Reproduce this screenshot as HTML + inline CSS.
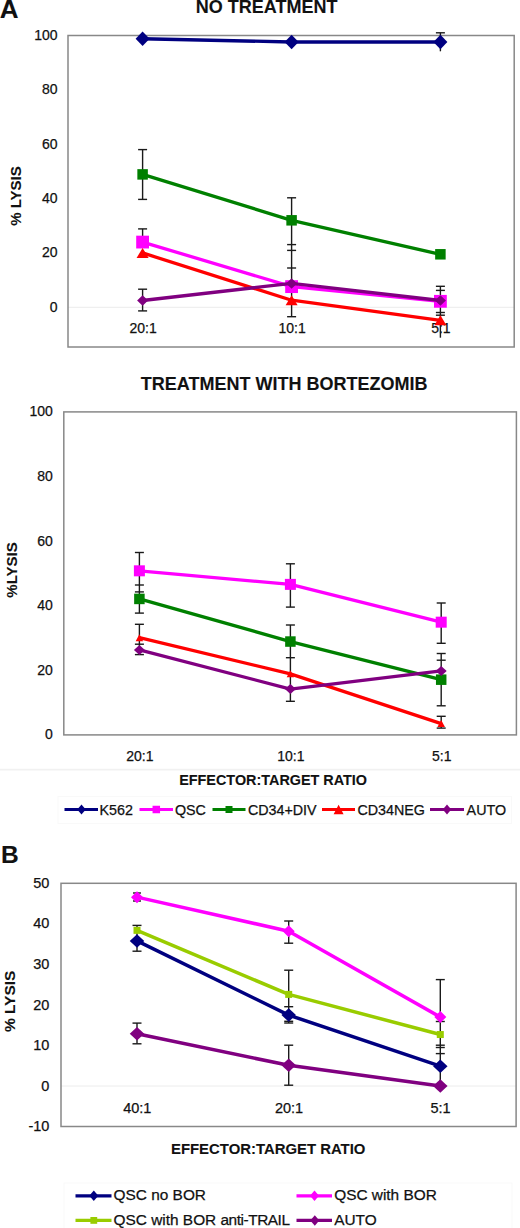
<!DOCTYPE html>
<html><head><meta charset="utf-8"><title>Figure</title>
<style>
html,body{margin:0;padding:0;background:#fff;}
body{width:520px;height:1228px;overflow:hidden;}
svg{display:block;font-family:"Liberation Sans",sans-serif;fill:#111;}
svg text{fill:#111;stroke:#111;stroke-width:0.25px;}
svg text[font-weight]{stroke-width:0.1px;}
</style></head><body>
<svg width="520" height="1228" viewBox="0 0 520 1228">
<rect width="520" height="1228" fill="#fff"/>
<line x1="68" y1="307.3" x2="514.2" y2="307.3" stroke="#ececec" stroke-width="1"/>
<rect x="68" y="35.5" width="446.20" height="311.50" fill="none" stroke="#888888" stroke-width="1.5"/>
<text x="57.60" y="311.70" font-size="14" text-anchor="end" >0</text>
<text x="57.60" y="257.34" font-size="14" text-anchor="end" >20</text>
<text x="57.60" y="202.98" font-size="14" text-anchor="end" >40</text>
<text x="57.60" y="148.62" font-size="14" text-anchor="end" >60</text>
<text x="57.60" y="94.26" font-size="14" text-anchor="end" >80</text>
<text x="57.60" y="39.90" font-size="14" text-anchor="end" >100</text>
<text x="143.10" y="333.20" font-size="14" text-anchor="middle" >20:1</text>
<text x="292.10" y="333.20" font-size="14" text-anchor="middle" >10:1</text>
<text x="440.90" y="333.20" font-size="14" text-anchor="middle" >5:1</text>
<text x="266.60" y="13.20" font-size="18" text-anchor="middle" font-weight="bold" >NO TREATMENT</text>
<text x="0.00" y="0.00" font-size="15" text-anchor="middle" font-weight="bold" transform="translate(21.2 196) rotate(-90)">% LYSIS</text>
<text x="-0.30" y="18.00" font-size="26" text-anchor="start" font-weight="bold" >A</text>
<line x1="142.60" y1="149.60" x2="142.60" y2="199.40" stroke="#1a1a1a" stroke-width="1.4"/>
<line x1="138.10" y1="149.60" x2="147.10" y2="149.60" stroke="#1a1a1a" stroke-width="1.4"/>
<line x1="138.10" y1="199.40" x2="147.10" y2="199.40" stroke="#1a1a1a" stroke-width="1.4"/>
<line x1="142.60" y1="228.90" x2="142.60" y2="242.00" stroke="#1a1a1a" stroke-width="1.4"/>
<line x1="138.10" y1="228.90" x2="147.10" y2="228.90" stroke="#1a1a1a" stroke-width="1.4"/>
<line x1="142.60" y1="289.20" x2="142.60" y2="310.90" stroke="#1a1a1a" stroke-width="1.4"/>
<line x1="138.10" y1="289.20" x2="147.10" y2="289.20" stroke="#1a1a1a" stroke-width="1.4"/>
<line x1="138.10" y1="310.90" x2="147.10" y2="310.90" stroke="#1a1a1a" stroke-width="1.4"/>
<line x1="291.60" y1="197.80" x2="291.60" y2="316.70" stroke="#1a1a1a" stroke-width="1.4"/>
<line x1="287.10" y1="197.80" x2="296.10" y2="197.80" stroke="#1a1a1a" stroke-width="1.4"/>
<line x1="287.10" y1="244.60" x2="296.10" y2="244.60" stroke="#1a1a1a" stroke-width="1.4"/>
<line x1="287.10" y1="250.40" x2="296.10" y2="250.40" stroke="#1a1a1a" stroke-width="1.4"/>
<line x1="287.10" y1="268.00" x2="296.10" y2="268.00" stroke="#1a1a1a" stroke-width="1.4"/>
<line x1="287.10" y1="316.70" x2="296.10" y2="316.70" stroke="#1a1a1a" stroke-width="1.4"/>
<line x1="440.40" y1="32.80" x2="440.40" y2="51.30" stroke="#1a1a1a" stroke-width="1.4"/>
<line x1="435.90" y1="32.80" x2="444.90" y2="32.80" stroke="#1a1a1a" stroke-width="1.4"/>
<line x1="440.40" y1="286.30" x2="440.40" y2="337.70" stroke="#1a1a1a" stroke-width="1.4"/>
<line x1="435.90" y1="286.30" x2="444.90" y2="286.30" stroke="#1a1a1a" stroke-width="1.4"/>
<line x1="435.90" y1="290.40" x2="444.90" y2="290.40" stroke="#1a1a1a" stroke-width="1.4"/>
<line x1="435.90" y1="312.50" x2="444.90" y2="312.50" stroke="#1a1a1a" stroke-width="1.4"/>
<line x1="435.90" y1="315.20" x2="444.90" y2="315.20" stroke="#1a1a1a" stroke-width="1.4"/>
<polyline points="142.60,38.76 291.60,42.02 440.40,42.02" fill="none" stroke="#000080" stroke-width="3.3" stroke-linejoin="round"/>
<path d="M142.60 31.51L149.60 38.76L142.60 46.01L135.60 38.76Z" fill="#000080"/>
<path d="M291.60 34.77L298.60 42.02L291.60 49.27L284.60 42.02Z" fill="#000080"/>
<path d="M440.40 34.77L447.40 42.02L440.40 49.27L433.40 42.02Z" fill="#000080"/>
<polyline points="142.60,242.07 291.60,286.64 440.40,301.32" fill="none" stroke="#ff00ff" stroke-width="3.3" stroke-linejoin="round"/>
<rect x="136.20" y="235.67" width="12.8" height="12.8" fill="#ff00ff"/>
<rect x="285.20" y="280.24" width="12.8" height="12.8" fill="#ff00ff"/>
<rect x="434.00" y="294.92" width="12.8" height="12.8" fill="#ff00ff"/>
<polyline points="142.60,174.39 291.60,220.32 440.40,254.30" fill="none" stroke="#008000" stroke-width="3.3" stroke-linejoin="round"/>
<rect x="137.35" y="169.14" width="10.5" height="10.5" fill="#008000"/>
<rect x="286.35" y="215.07" width="10.5" height="10.5" fill="#008000"/>
<rect x="435.15" y="249.05" width="10.5" height="10.5" fill="#008000"/>
<polyline points="142.60,252.94 291.60,300.23 440.40,320.35" fill="none" stroke="#ff0000" stroke-width="3.3" stroke-linejoin="round"/>
<path d="M142.60 247.94L148.60 257.94L136.60 257.94Z" fill="#ff0000"/>
<path d="M291.60 295.23L297.60 305.23L285.60 305.23Z" fill="#ff0000"/>
<path d="M440.40 315.35L446.40 325.35L434.40 325.35Z" fill="#ff0000"/>
<polyline points="142.60,300.50 291.60,283.38 440.40,300.50" fill="none" stroke="#800080" stroke-width="3.3" stroke-linejoin="round"/>
<path d="M142.60 295.25L148.10 300.50L142.60 305.75L137.10 300.50Z" fill="#800080"/>
<path d="M291.60 278.13L297.10 283.38L291.60 288.63L286.10 283.38Z" fill="#800080"/>
<path d="M440.40 295.25L445.90 300.50L440.40 305.75L434.90 300.50Z" fill="#800080"/>
<rect x="63.8" y="411.9" width="452.60" height="323.00" fill="none" stroke="#888888" stroke-width="1.5"/>
<text x="52.90" y="739.30" font-size="14" text-anchor="end" >0</text>
<text x="52.90" y="674.70" font-size="14" text-anchor="end" >20</text>
<text x="52.90" y="610.10" font-size="14" text-anchor="end" >40</text>
<text x="52.90" y="545.50" font-size="14" text-anchor="end" >60</text>
<text x="52.90" y="480.90" font-size="14" text-anchor="end" >80</text>
<text x="52.90" y="416.30" font-size="14" text-anchor="end" >100</text>
<text x="139.90" y="760.90" font-size="14" text-anchor="middle" >20:1</text>
<text x="290.90" y="760.90" font-size="14" text-anchor="middle" >10:1</text>
<text x="441.70" y="760.90" font-size="14" text-anchor="middle" >5:1</text>
<text x="284.10" y="390.30" font-size="18" text-anchor="middle" font-weight="bold" >TREATMENT WITH BORTEZOMIB</text>
<text x="0.00" y="0.00" font-size="15" text-anchor="middle" font-weight="bold" transform="translate(17.2 570) rotate(-90)">%LYSIS</text>
<line x1="0" y1="769.6" x2="520" y2="769.6" stroke="#f1f1f1" stroke-width="1.6"/>
<text x="179.20" y="784.60" font-size="14.4" text-anchor="start" font-weight="bold" >EFFECTOR:TARGET RATIO</text>
<line x1="139.40" y1="552.50" x2="139.40" y2="613.10" stroke="#1a1a1a" stroke-width="1.4"/>
<line x1="134.90" y1="552.50" x2="143.90" y2="552.50" stroke="#1a1a1a" stroke-width="1.4"/>
<line x1="134.90" y1="585.00" x2="143.90" y2="585.00" stroke="#1a1a1a" stroke-width="1.4"/>
<line x1="134.90" y1="591.90" x2="143.90" y2="591.90" stroke="#1a1a1a" stroke-width="1.4"/>
<line x1="134.90" y1="613.10" x2="143.90" y2="613.10" stroke="#1a1a1a" stroke-width="1.4"/>
<line x1="139.40" y1="624.30" x2="139.40" y2="654.60" stroke="#1a1a1a" stroke-width="1.4"/>
<line x1="134.90" y1="624.30" x2="143.90" y2="624.30" stroke="#1a1a1a" stroke-width="1.4"/>
<line x1="134.90" y1="644.20" x2="143.90" y2="644.20" stroke="#1a1a1a" stroke-width="1.4"/>
<line x1="134.90" y1="654.60" x2="143.90" y2="654.60" stroke="#1a1a1a" stroke-width="1.4"/>
<line x1="290.40" y1="563.80" x2="290.40" y2="607.10" stroke="#1a1a1a" stroke-width="1.4"/>
<line x1="285.90" y1="563.80" x2="294.90" y2="563.80" stroke="#1a1a1a" stroke-width="1.4"/>
<line x1="285.90" y1="607.10" x2="294.90" y2="607.10" stroke="#1a1a1a" stroke-width="1.4"/>
<line x1="290.40" y1="625.00" x2="290.40" y2="701.30" stroke="#1a1a1a" stroke-width="1.4"/>
<line x1="285.90" y1="625.00" x2="294.90" y2="625.00" stroke="#1a1a1a" stroke-width="1.4"/>
<line x1="285.90" y1="657.70" x2="294.90" y2="657.70" stroke="#1a1a1a" stroke-width="1.4"/>
<line x1="285.90" y1="701.30" x2="294.90" y2="701.30" stroke="#1a1a1a" stroke-width="1.4"/>
<line x1="441.20" y1="603.00" x2="441.20" y2="643.30" stroke="#1a1a1a" stroke-width="1.4"/>
<line x1="436.70" y1="603.00" x2="445.70" y2="603.00" stroke="#1a1a1a" stroke-width="1.4"/>
<line x1="436.70" y1="643.30" x2="445.70" y2="643.30" stroke="#1a1a1a" stroke-width="1.4"/>
<line x1="441.20" y1="653.50" x2="441.20" y2="705.80" stroke="#1a1a1a" stroke-width="1.4"/>
<line x1="436.70" y1="653.50" x2="445.70" y2="653.50" stroke="#1a1a1a" stroke-width="1.4"/>
<line x1="436.70" y1="660.20" x2="445.70" y2="660.20" stroke="#1a1a1a" stroke-width="1.4"/>
<line x1="436.70" y1="705.80" x2="445.70" y2="705.80" stroke="#1a1a1a" stroke-width="1.4"/>
<line x1="441.20" y1="716.30" x2="441.20" y2="728.10" stroke="#1a1a1a" stroke-width="1.4"/>
<line x1="436.70" y1="716.30" x2="445.70" y2="716.30" stroke="#1a1a1a" stroke-width="1.4"/>
<line x1="436.70" y1="728.10" x2="445.70" y2="728.10" stroke="#1a1a1a" stroke-width="1.4"/>
<polyline points="139.40,570.82 290.40,584.38 441.20,622.17" fill="none" stroke="#ff00ff" stroke-width="3.3" stroke-linejoin="round"/>
<rect x="133.90" y="565.32" width="11" height="11" fill="#ff00ff"/>
<rect x="284.90" y="578.88" width="11" height="11" fill="#ff00ff"/>
<rect x="435.70" y="616.67" width="11" height="11" fill="#ff00ff"/>
<polyline points="139.40,598.92 290.40,641.55 441.20,679.67" fill="none" stroke="#008000" stroke-width="3.3" stroke-linejoin="round"/>
<rect x="134.15" y="593.67" width="10.5" height="10.5" fill="#008000"/>
<rect x="285.15" y="636.30" width="10.5" height="10.5" fill="#008000"/>
<rect x="435.95" y="674.42" width="10.5" height="10.5" fill="#008000"/>
<polyline points="139.40,637.68 290.40,673.85 441.20,723.60" fill="none" stroke="#ff0000" stroke-width="3.3" stroke-linejoin="round"/>
<path d="M139.40 634.18L143.15 641.18L135.65 641.18Z" fill="#ff0000"/>
<path d="M290.40 670.35L294.15 677.35L286.65 677.35Z" fill="#ff0000"/>
<path d="M441.20 720.10L444.95 727.10L437.45 727.10Z" fill="#ff0000"/>
<polyline points="139.40,649.95 290.40,689.03 441.20,670.95" fill="none" stroke="#800080" stroke-width="3.3" stroke-linejoin="round"/>
<path d="M139.40 644.95L144.90 649.95L139.40 654.95L133.90 649.95Z" fill="#800080"/>
<path d="M290.40 684.03L295.90 689.03L290.40 694.03L284.90 689.03Z" fill="#800080"/>
<path d="M441.20 665.95L446.70 670.95L441.20 675.95L435.70 670.95Z" fill="#800080"/>
<rect x="58" y="796.5" width="453.5" height="27" fill="none" stroke="#f9f9f9" stroke-width="1"/>
<line x1="64.5" y1="809.5" x2="98" y2="809.5" stroke="#000080" stroke-width="3"/>
<path d="M81.50 804.50L85.75 809.50L81.50 814.50L77.25 809.50Z" fill="#000080"/>
<text x="99.50" y="814.50" font-size="14.3" text-anchor="start" >K562</text>
<line x1="139.5" y1="809.5" x2="173" y2="809.5" stroke="#ff00ff" stroke-width="3"/>
<rect x="152.55" y="805.75" width="7.5" height="7.5" fill="#ff00ff"/>
<text x="174.90" y="814.50" font-size="14.3" text-anchor="start" >QSC</text>
<line x1="212.5" y1="809.5" x2="245.5" y2="809.5" stroke="#008000" stroke-width="3"/>
<rect x="225.50" y="806.00" width="7" height="7" fill="#008000"/>
<text x="247.90" y="814.50" font-size="14.3" text-anchor="start" >CD34+DIV</text>
<line x1="322" y1="809.5" x2="355" y2="809.5" stroke="#ff0000" stroke-width="3"/>
<path d="M338.60 804.75L343.60 814.25L333.60 814.25Z" fill="#ff0000"/>
<text x="357.40" y="814.50" font-size="14.3" text-anchor="start" >CD34NEG</text>
<line x1="430" y1="809.5" x2="464" y2="809.5" stroke="#800080" stroke-width="3"/>
<path d="M447.00 804.50L451.25 809.50L447.00 814.50L442.75 809.50Z" fill="#800080"/>
<text x="466.60" y="814.50" font-size="14.3" text-anchor="start" >AUTO</text>
<line x1="61" y1="1086.0" x2="516.1" y2="1086.0" stroke="#ececec" stroke-width="1"/>
<rect x="61" y="883.3" width="455.10" height="243.20" fill="none" stroke="#888888" stroke-width="1.5"/>
<text x="49.40" y="1131.11" font-size="14.5" text-anchor="end" >-10</text>
<text x="49.40" y="1090.58" font-size="14.5" text-anchor="end" >0</text>
<text x="49.40" y="1050.05" font-size="14.5" text-anchor="end" >10</text>
<text x="49.40" y="1009.52" font-size="14.5" text-anchor="end" >20</text>
<text x="49.40" y="968.99" font-size="14.5" text-anchor="end" >30</text>
<text x="49.40" y="928.46" font-size="14.5" text-anchor="end" >40</text>
<text x="49.40" y="887.93" font-size="14.5" text-anchor="end" >50</text>
<text x="137.30" y="1112.90" font-size="14.5" text-anchor="middle" >40:1</text>
<text x="289.00" y="1112.90" font-size="14.5" text-anchor="middle" >20:1</text>
<text x="440.60" y="1112.90" font-size="14.5" text-anchor="middle" >5:1</text>
<text x="0.90" y="863.00" font-size="24.5" text-anchor="start" font-weight="bold" >B</text>
<text x="0.00" y="0.00" font-size="15.5" text-anchor="middle" font-weight="bold" transform="translate(15 1001.3) rotate(-90)">% LYSIS</text>
<text x="171.00" y="1154.30" font-size="14.9" text-anchor="start" font-weight="bold" >EFFECTOR:TARGET RATIO</text>
<line x1="137.00" y1="893.00" x2="137.00" y2="901.00" stroke="#1a1a1a" stroke-width="1.4"/>
<line x1="133.00" y1="893.00" x2="141.00" y2="893.00" stroke="#1a1a1a" stroke-width="1.4"/>
<line x1="133.00" y1="901.00" x2="141.00" y2="901.00" stroke="#1a1a1a" stroke-width="1.4"/>
<line x1="137.00" y1="925.40" x2="137.00" y2="951.20" stroke="#1a1a1a" stroke-width="1.4"/>
<line x1="132.50" y1="925.40" x2="141.50" y2="925.40" stroke="#1a1a1a" stroke-width="1.4"/>
<line x1="132.50" y1="951.20" x2="141.50" y2="951.20" stroke="#1a1a1a" stroke-width="1.4"/>
<line x1="137.00" y1="1023.10" x2="137.00" y2="1043.80" stroke="#1a1a1a" stroke-width="1.4"/>
<line x1="132.50" y1="1023.10" x2="141.50" y2="1023.10" stroke="#1a1a1a" stroke-width="1.4"/>
<line x1="132.50" y1="1043.80" x2="141.50" y2="1043.80" stroke="#1a1a1a" stroke-width="1.4"/>
<line x1="288.70" y1="921.00" x2="288.70" y2="943.20" stroke="#1a1a1a" stroke-width="1.4"/>
<line x1="284.20" y1="921.00" x2="293.20" y2="921.00" stroke="#1a1a1a" stroke-width="1.4"/>
<line x1="284.20" y1="943.20" x2="293.20" y2="943.20" stroke="#1a1a1a" stroke-width="1.4"/>
<line x1="288.70" y1="970.20" x2="288.70" y2="1023.00" stroke="#1a1a1a" stroke-width="1.4"/>
<line x1="284.20" y1="970.20" x2="293.20" y2="970.20" stroke="#1a1a1a" stroke-width="1.4"/>
<line x1="284.20" y1="1006.70" x2="293.20" y2="1006.70" stroke="#1a1a1a" stroke-width="1.4"/>
<line x1="284.20" y1="1021.30" x2="293.20" y2="1021.30" stroke="#1a1a1a" stroke-width="1.4"/>
<line x1="284.20" y1="1023.00" x2="293.20" y2="1023.00" stroke="#1a1a1a" stroke-width="1.4"/>
<line x1="288.70" y1="1045.20" x2="288.70" y2="1085.20" stroke="#1a1a1a" stroke-width="1.4"/>
<line x1="284.20" y1="1045.20" x2="293.20" y2="1045.20" stroke="#1a1a1a" stroke-width="1.4"/>
<line x1="284.20" y1="1085.20" x2="293.20" y2="1085.20" stroke="#1a1a1a" stroke-width="1.4"/>
<line x1="440.30" y1="979.60" x2="440.30" y2="1082.00" stroke="#1a1a1a" stroke-width="1.4"/>
<line x1="435.80" y1="979.60" x2="444.80" y2="979.60" stroke="#1a1a1a" stroke-width="1.4"/>
<line x1="435.80" y1="1021.50" x2="444.80" y2="1021.50" stroke="#1a1a1a" stroke-width="1.4"/>
<line x1="435.80" y1="1045.20" x2="444.80" y2="1045.20" stroke="#1a1a1a" stroke-width="1.4"/>
<line x1="435.80" y1="1047.50" x2="444.80" y2="1047.50" stroke="#1a1a1a" stroke-width="1.4"/>
<line x1="435.80" y1="1053.60" x2="444.80" y2="1053.60" stroke="#1a1a1a" stroke-width="1.4"/>
<polyline points="137.00,940.90 288.70,1015.07 440.30,1066.14" fill="none" stroke="#000080" stroke-width="3.5" stroke-linejoin="round"/>
<path d="M137.00 934.15L144.25 940.90L137.00 947.65L129.75 940.90Z" fill="#000080"/>
<path d="M288.70 1008.32L295.95 1015.07L288.70 1021.82L281.45 1015.07Z" fill="#000080"/>
<path d="M440.30 1059.39L447.55 1066.14L440.30 1072.89L433.05 1066.14Z" fill="#000080"/>
<polyline points="137.00,897.13 288.70,931.18 440.30,1017.10" fill="none" stroke="#ff00ff" stroke-width="3.5" stroke-linejoin="round"/>
<path d="M137.00 891.13L143.00 897.13L137.00 903.13L131.00 897.13Z" fill="#ff00ff"/>
<path d="M288.70 925.18L294.70 931.18L288.70 937.18L282.70 931.18Z" fill="#ff00ff"/>
<path d="M440.30 1011.10L446.30 1017.10L440.30 1023.10L434.30 1017.10Z" fill="#ff00ff"/>
<polyline points="137.00,930.36 288.70,994.40 440.30,1034.53" fill="none" stroke="#99cc00" stroke-width="3.5" stroke-linejoin="round"/>
<rect x="133.50" y="926.86" width="7" height="7" fill="#99cc00"/>
<rect x="285.20" y="990.90" width="7" height="7" fill="#99cc00"/>
<rect x="436.80" y="1031.03" width="7" height="7" fill="#99cc00"/>
<polyline points="137.00,1033.72 288.70,1065.33 440.30,1086.00" fill="none" stroke="#800080" stroke-width="3.5" stroke-linejoin="round"/>
<path d="M137.00 1026.97L144.25 1033.72L137.00 1040.47L129.75 1033.72Z" fill="#800080"/>
<path d="M288.70 1058.58L295.95 1065.33L288.70 1072.08L281.45 1065.33Z" fill="#800080"/>
<path d="M440.30 1079.25L447.55 1086.00L440.30 1092.75L433.05 1086.00Z" fill="#800080"/>
<rect x="64" y="1183" width="448" height="50" fill="none" stroke="#f9f9f9" stroke-width="1"/>
<line x1="75.5" y1="1195.8" x2="111.5" y2="1195.8" stroke="#000080" stroke-width="3.2"/>
<path d="M93.80 1190.55L98.30 1195.80L93.80 1201.05L89.30 1195.80Z" fill="#000080"/>
<text x="113.60" y="1200.10" font-size="15.4" text-anchor="start" >QSC no BOR</text>
<line x1="75.5" y1="1220.4" x2="111.5" y2="1220.4" stroke="#99cc00" stroke-width="3.2"/>
<rect x="90.40" y="1217.00" width="6.8" height="6.8" fill="#99cc00"/>
<text x="113.60" y="1224.70" font-size="15.4" text-anchor="start" >QSC with BOR <tspan letter-spacing="-0.45">anti-TRAIL</tspan></text>
<line x1="296.5" y1="1195.8" x2="332" y2="1195.8" stroke="#ff00ff" stroke-width="3.2"/>
<path d="M314.50 1190.55L319.00 1195.80L314.50 1201.05L310.00 1195.80Z" fill="#ff00ff"/>
<text x="334.20" y="1200.10" font-size="15.4" text-anchor="start" >QSC with BOR</text>
<line x1="296.5" y1="1220.4" x2="332" y2="1220.4" stroke="#800080" stroke-width="3.2"/>
<path d="M314.80 1215.15L319.30 1220.40L314.80 1225.65L310.30 1220.40Z" fill="#800080"/>
<text x="334.20" y="1224.70" font-size="15.4" text-anchor="start" >AUTO</text>
</svg>
</body></html>
